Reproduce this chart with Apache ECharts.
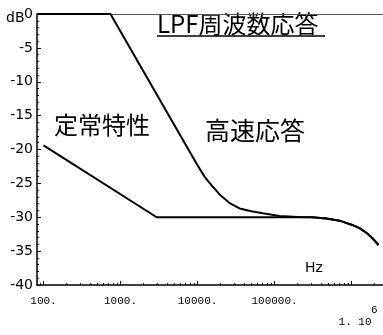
<!DOCTYPE html>
<html>
<head>
<meta charset="utf-8">
<script src="https://cdn.jsdelivr.net/npm/echarts@6/dist/echarts.min.js"></script>
<style>html,body{margin:0;padding:0;background:#fff}#c{width:383px;height:335px}</style>
</head>
<body>
<div id="c"></div>
<script>
// ---- data ----
const xTickExps = [2, 3, 4, 5, 6];
const xTickLabels = ['100.', '1000.', '10000.', '100000.', '1. 10^6'];
const yTicks = [-40, -35, -30, -25, -20, -15, -10, -5, 0];
const steadyFreq = [100, 2950, 300000, 470000, 700000, 1000000, 1270000, 1600000, 1870000, 2240000];
const steadyDb   = [-19.4, -30.0, -30.0, -30.2, -30.5, -31.1, -31.6, -32.4, -33.1, -34.1];
const fastFreq = [82, 740, 9600, 12300, 15800, 20000, 26100, 35100, 50000, 70500, 116000, 200000, 312000, 470000, 700000, 1000000, 1270000, 1600000, 1870000, 2240000];
const fastDb   = [0, 0, -22.0, -24.0, -25.5, -26.8, -27.9, -28.7, -29.1, -29.4, -29.8, -29.95, -30.0, -30.2, -30.5, -31.1, -31.6, -32.4, -33.1, -34.1];
const titleText = 'LPF周波数応答';
const steadyName = '定常特性';
const fastName = '高速応答';
const xUnit = 'Hz';
const yUnit = 'dB';

const xMin = Math.log10(82.3);
const xMax = Math.log10(2560000);
const minorExps = [];
for (let d = 1; d <= 6; d++) {
  for (let k = 2; k <= 9; k++) {
    const v = Math.log10(k * Math.pow(10, d));
    if (v > xMin && v < xMax) minorExps.push(v);
  }
}
const toPts = (fs, ds) => fs.map((f, i) => [Math.log10(f), ds[i]]);
const mono = 'Liberation Mono';
const cjk = 'Noto Sans CJK JP';

const chart = echarts.init(document.getElementById('c'));
chart.setOption({
  animation: false,
  backgroundColor: '#fff',
  grid: { left: 37, right: 0, top: 14, bottom: 50 },
  xAxis: [
    {
      type: 'value', min: xMin, max: xMax, position: 'bottom',
      axisLine: { show: true, onZero: false, lineStyle: { color: '#000', width: 1.5 } },
      axisTick: { show: true, inside: true, length: 4, customValues: xTickExps, lineStyle: { color: '#000' } },
      axisLabel: {
        show: true, customValues: xTickExps, margin: 11, color: '#000',
        fontFamily: mono, fontSize: 11,
        formatter: function (v) {
          let i = xTickExps.findIndex(e => Math.abs(e - v) < 1e-6);
          if (i < 0) return '';
          const s = xTickLabels[i];
          if (s.indexOf('^') >= 0) {
            const p = s.split('^');
            return '{e|' + p[1] + '}\n{b|' + p[0] + '}';
          }
          return s;
        },
        rich: {
          e: { fontFamily: mono, fontSize: 11, color: '#000', width: 46, align: 'right', lineHeight: 16, padding: [12, 0, 0, 6] },
          b: { fontFamily: mono, fontSize: 11, color: '#000', width: 40, align: 'right', lineHeight: 20, padding: [0, 6, 0, 6] }
        }
      },
      splitLine: { show: false }
    },
    {
      type: 'value', min: xMin, max: xMax, position: 'bottom',
      axisLine: { show: false, onZero: false },
      axisTick: { show: true, inside: true, length: 2, customValues: minorExps, lineStyle: { color: '#000' } },
      axisLabel: { show: false },
      splitLine: { show: false }
    },
    {
      type: 'value', min: xMin, max: xMax, position: 'top',
      axisLine: { show: true, onZero: false, lineStyle: { color: '#555', width: 1 } },
      axisTick: { show: false }, axisLabel: { show: false }, splitLine: { show: false }
    }
  ],
  yAxis: {
    type: 'value', min: -40, max: 0, interval: 5,
    axisLine: { show: true, onZero: false, lineStyle: { color: '#000', width: 1.5 } },
    axisTick: { show: true, inside: true, length: 4, lineStyle: { color: '#000' } },
    minorTick: { show: true, splitNumber: 5, length: 2, lineStyle: { color: '#000' } },
    axisLabel: {
      margin: 4, color: '#000', fontFamily: 'DejaVu Sans', fontSize: 14,
      formatter: v => (yTicks.indexOf(v) >= 0 ? String(v) : '')
    },
    splitLine: { show: false }
  },
  series: [
    {
      name: steadyName, type: 'line', xAxisIndex: 0, data: toPts(steadyFreq, steadyDb),
      showSymbol: false, symbol: 'none', lineStyle: { color: '#000', width: 2 }, z: 3
    },
    {
      name: fastName, type: 'line', xAxisIndex: 0, data: toPts(fastFreq, fastDb),
      showSymbol: false, symbol: 'none', lineStyle: { color: '#000', width: 2 }, z: 3
    }
  ],
  graphic: [
    { type: 'text', left: 157, top: 12, style: { text: titleText, fontFamily: cjk, fontSize: 24, fill: '#000' } },
    { type: 'line', shape: { x1: 157, y1: 36, x2: 325, y2: 36 }, style: { stroke: '#000', lineWidth: 1.5 } },
    { type: 'text', left: 54, top: 113, style: { text: steadyName, fontFamily: cjk, fontSize: 24, fill: '#000' } },
    { type: 'text', left: 205, top: 118, style: { text: fastName, fontFamily: cjk, fontSize: 25, fill: '#000' } },
    { type: 'text', left: 305, top: 261, style: { text: xUnit, fontFamily: 'DejaVu Sans', fontSize: 14, fill: '#000' } },
    { type: 'text', left: 6, top: 11, style: { text: yUnit, fontFamily: 'DejaVu Sans', fontSize: 14, fill: '#000' } }
  ]
});
</script>
</body>
</html>
